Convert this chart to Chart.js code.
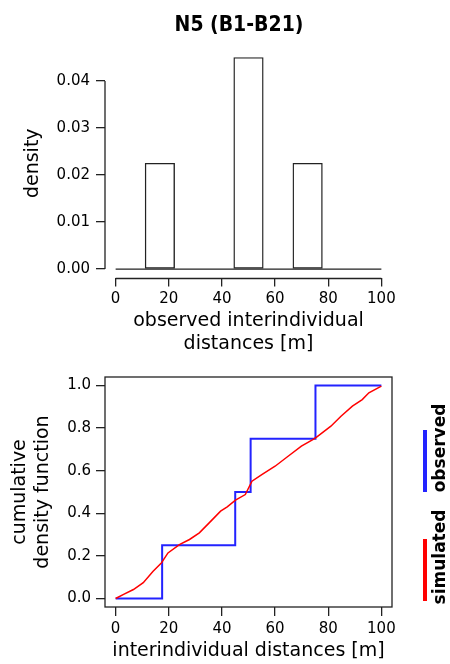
<!DOCTYPE html>
<html>
<head>
<meta charset="utf-8">
<script src="https://cdn.jsdelivr.net/npm/chart.js@4.4.1/dist/chart.umd.min.js"></script>
<style>
  html, body { margin: 0; padding: 0; background: #fff; }
  body { width: 450px; height: 664px; position: relative; overflow: hidden; }
  canvas { position: absolute; left: 0; }
  #histChart { top: 0; }
  #cdfChart { top: 360px; }
</style>
</head>
<body>
<canvas id="histChart" width="450" height="360"></canvas>
<canvas id="cdfChart" width="450" height="304"></canvas>
<script>
// histogram of the observed distances
const binEdges = [0, 11.1, 22.2, 33.3, 44.4, 55.6, 66.7, 77.8, 88.9, 100];
const binDensity = [0, 0.0225, 0, 0, 0.045, 0, 0.0225, 0, 0];
const histXTicks = [0, 20, 40, 60, 80, 100];
const histYTicks = [0, 0.01, 0.02, 0.03, 0.04];

// cumulative distribution: observed (step) and simulated
const obsX = [0, 17.5, 45, 50.8, 75.2, 100];
const obsY = [0, 0.25, 0.5, 0.75, 1, 1];
const simX = [0, 3, 6.7, 10.4, 14.1, 17.2, 19.7, 24, 27.8, 31.5, 35.2, 39.5, 42, 45.1, 48.8, 51.3, 55, 60, 64.9, 69.9, 74.2, 75.5, 81, 84.8, 89.1, 92.8, 95.3, 100];
const simY = [0, 0.019, 0.042, 0.074, 0.128, 0.167, 0.214, 0.253, 0.277, 0.308, 0.355, 0.41, 0.43, 0.462, 0.488, 0.551, 0.582, 0.621, 0.668, 0.715, 0.746, 0.757, 0.809, 0.856, 0.903, 0.934, 0.966, 0.997];
const cdfXTicks = [0, 20, 40, 60, 80, 100];
const cdfYTicks = [0, 0.2, 0.4, 0.6, 0.8, 1];

const lineColor = '#222';
const obsColor = 'rgb(35,35,255)';
const simColor = '#ff0000';
const mainFont = '"DejaVu Sans", Verdana, sans-serif';

Chart.defaults.font.family = mainFont;
Chart.defaults.color = '#000';
Chart.defaults.animation = false;

// ticks only at the given values
function fixedTicks(list) {
  return scale => { scale.ticks = list.map(v => ({ value: v })); };
}

// tick marks outside, no grid inside
const tickGrid = { drawOnChartArea: false, drawTicks: true, tickLength: 9, color: lineColor, lineWidth: 1.3 };

// axis lines like R: only over the tick range
const histAxes = {
  id: 'histAxes',
  afterDatasetsDraw(chart) {
    const { ctx, chartArea, scales } = chart;
    const x = scales.x, y = scales.y;
    ctx.save();
    ctx.strokeStyle = lineColor;
    ctx.lineWidth = 1.3;
    ctx.beginPath();
    ctx.moveTo(chartArea.left, y.getPixelForValue(histYTicks[0]));
    ctx.lineTo(chartArea.left, y.getPixelForValue(histYTicks[histYTicks.length - 1]));
    ctx.moveTo(x.getPixelForValue(histXTicks[0]), chartArea.bottom + 1);
    ctx.lineTo(x.getPixelForValue(histXTicks[histXTicks.length - 1]), chartArea.bottom + 1);
    // bar baseline
    ctx.moveTo(x.getPixelForValue(binEdges[0]), y.getPixelForValue(0));
    ctx.lineTo(x.getPixelForValue(binEdges[binEdges.length - 1]), y.getPixelForValue(0));
    ctx.stroke();
    ctx.restore();
  }
};

const boxFrame = {
  id: 'boxFrame',
  afterDatasetsDraw(chart) {
    const { ctx, chartArea } = chart;
    ctx.save();
    ctx.strokeStyle = lineColor;
    ctx.lineWidth = 1.3;
    ctx.strokeRect(chartArea.left, chartArea.top, chartArea.right - chartArea.left, chartArea.bottom - chartArea.top);
    ctx.restore();
  }
};

// legend to the right: coloured bar + rotated label
const sideLegend = {
  id: 'sideLegend',
  afterDraw(chart) {
    const { ctx, chartArea } = chart;
    const items = [
      { label: 'observed', color: obsColor, from: 53, to: 115, mid: 71 },
      { label: 'simulated', color: simColor, from: 162, to: 224, mid: 180 }
    ];
    const lx = chartArea.right + 33;
    const tx = chartArea.right + 49;
    ctx.save();
    items.forEach(it => {
      ctx.strokeStyle = it.color;
      ctx.lineWidth = 4;
      ctx.beginPath();
      ctx.moveTo(lx, chartArea.top + it.from);
      ctx.lineTo(lx, chartArea.top + it.to);
      ctx.stroke();
      ctx.save();
      ctx.translate(tx, chartArea.top + it.mid);
      ctx.rotate(-Math.PI / 2);
      ctx.fillStyle = '#000';
      ctx.font = 'bold 17px ' + mainFont;
      ctx.textAlign = 'center';
      ctx.textBaseline = 'middle';
      ctx.fillText(it.label, 0, 0);
      ctx.restore();
    });
    ctx.restore();
  }
};

const histBars = binDensity.map((d, i) => ({ x: (binEdges[i] + binEdges[i + 1]) / 2, y: d }));

new Chart(document.getElementById('histChart'), {
  type: 'bar',
  data: {
    datasets: [{
      data: histBars,
      backgroundColor: '#fff',
      borderColor: lineColor,
      borderWidth: 1.4,
      borderSkipped: false,
      categoryPercentage: 1,
      barPercentage: 1
    }]
  },
  options: {
    responsive: false,
    layout: { padding: { left: 28, right: 0, top: 0, bottom: 0 } },
    plugins: {
      legend: { display: false },
      tooltip: { enabled: false },
      title: {
        display: true,
        text: 'N5 (B1-B21)',
        color: '#000',
        font: { family: '"DejaVu Sans Condensed", "DejaVu Sans", sans-serif', size: 21, weight: 'bold' },
        padding: { top: 12.5, bottom: 11.3 }
      }
    },
    scales: {
      x: {
        type: 'linear',
        min: -4, max: 104,
        offset: false,
        grid: Object.assign({ offset: false }, tickGrid),
        border: { display: false },
        afterBuildTicks: fixedTicks(histXTicks),
        afterFit: s => { s.height = 82.5; },
        ticks: { font: { size: 15 }, padding: 4, maxRotation: 0 },
        title: {
          display: true,
          text: ['observed interindividual', 'distances [m]'],
          font: { size: 19 },
          padding: { top: 0, bottom: 5 }
        }
      },
      y: {
        min: -0.0018, max: 0.0468,
        grid: tickGrid,
        border: { display: false },
        afterBuildTicks: fixedTicks(histYTicks),
        afterFit: s => { s.width = 77; },
        ticks: { font: { size: 15 }, padding: 6, callback: v => v.toFixed(2) },
        title: { display: true, text: 'density', font: { size: 19 }, padding: { top: -6, bottom: 0 } }
      },
      // empty margin on the right, same width as the legend strip below
      side: {
        type: 'linear',
        position: 'right',
        grid: { display: false },
        border: { display: false },
        ticks: { display: false },
        afterFit: s => { s.width = 58; }
      }
    }
  },
  plugins: [histAxes]
});

new Chart(document.getElementById('cdfChart'), {
  type: 'line',
  data: {
    datasets: [{
      label: 'simulated',
      data: simX.map((x, i) => ({ x: x, y: simY[i] })),
      borderColor: simColor,
      borderWidth: 1.5,
      pointRadius: 0,
      fill: false,
      tension: 0
    }, {
      label: 'observed',
      data: obsX.map((x, i) => ({ x: x, y: obsY[i] })),
      borderColor: obsColor,
      borderWidth: 2,
      pointRadius: 0,
      fill: false,
      stepped: 'before'
    }]
  },
  options: {
    responsive: false,
    layout: { padding: { left: 0, right: 58, top: 17, bottom: 0 } },
    plugins: { legend: { display: false }, tooltip: { enabled: false } },
    scales: {
      x: {
        type: 'linear',
        min: -4, max: 104,
        grid: tickGrid,
        border: { display: false },
        afterBuildTicks: fixedTicks(cdfXTicks),
        afterFit: s => { s.height = 57; },
        ticks: { font: { size: 15 }, padding: 4, maxRotation: 0 },
        title: {
          display: true,
          text: 'interindividual distances [m]',
          font: { size: 19 },
          padding: { top: 0, bottom: 2 }
        }
      },
      y: {
        min: -0.04, max: 1.04,
        grid: tickGrid,
        border: { display: false },
        afterBuildTicks: fixedTicks(cdfYTicks),
        afterFit: s => { s.width = 105; },
        ticks: { font: { size: 15 }, padding: 5, callback: v => v.toFixed(1) },
        title: {
          display: true,
          text: ['cumulative', 'density function'],
          font: { size: 19 },
          padding: { top: 9, bottom: 0 }
        }
      }
    }
  },
  plugins: [boxFrame, sideLegend]
});
</script>
</body>
</html>
